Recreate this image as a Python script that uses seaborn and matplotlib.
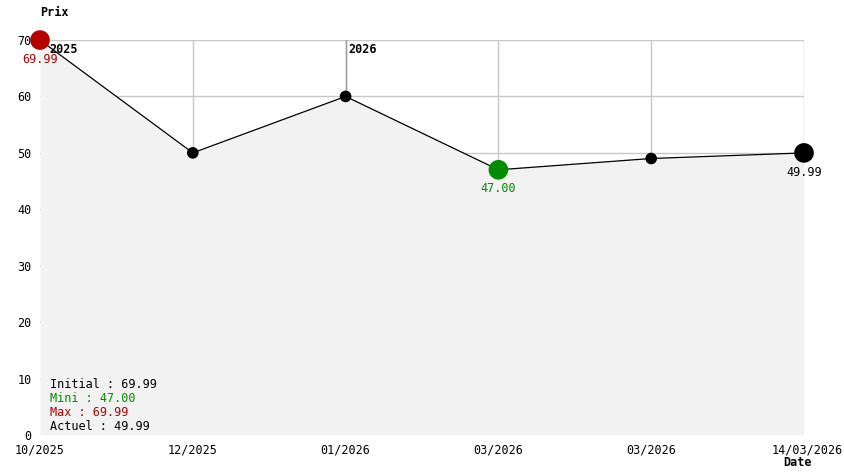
import pandas as pd
import seaborn as sns
import matplotlib.pyplot as plt
import matplotlib.transforms as mtransforms

# donnees
dates = ["10/2025", "12/2025", "01/2026", "03/2026", "03/2026", "14/03/2026"]
prix = [69.99, 50, 60, 47, 49, 49.99]
y_ticks = [0, 10, 20, 30, 40, 50, 60, 70]

ROUGE = "#b40000"
VERT = "#008c00"

df = pd.DataFrame({"pos": range(len(prix)), "prix": prix})

sns.set_style("white")
plt.rcParams["font.family"] = ["DejaVu Sans Mono"]
plt.rcParams["text.color"] = "black"
plt.rcParams["xtick.color"] = "black"
plt.rcParams["ytick.color"] = "black"

fig = plt.figure(figsize=(8.44, 4.74), dpi=100)
ax = fig.add_axes([40 / 844, 39 / 474, 764 / 844, 395 / 474])

# grille sous le remplissage
ax.grid(False)
for v in y_ticks:
    ax.axhline(v, color="#c8c8c8", linewidth=1, zorder=0.5)
for i in range(1, len(dates)):
    ax.axvline(i, color="#c8c8c8", linewidth=1, zorder=0.5)
# separateur d'annee
ax.axvline(2, color="#999999", linewidth=1, zorder=0.6)

ax.fill_between(df["pos"], df["prix"], 0, color="#f2f2f2", linewidth=0, zorder=1)

sns.lineplot(data=df, x="pos", y="prix", color="black", linewidth=0.9, ax=ax, zorder=3)

i_min = prix.index(min(prix))
i_max = prix.index(max(prix))
i_last = len(prix) - 1
petits = [i for i in range(len(prix)) if i not in (i_min, i_max, i_last)]
sns.scatterplot(data=df.iloc[petits], x="pos", y="prix", color="black", s=70,
                edgecolor="none", ax=ax, zorder=4)
sns.scatterplot(data=df.iloc[[i_max]], x="pos", y="prix", color=ROUGE, s=200,
                edgecolor="none", ax=ax, zorder=4, clip_on=False)
sns.scatterplot(data=df.iloc[[i_min]], x="pos", y="prix", color=VERT, s=200,
                edgecolor="none", ax=ax, zorder=4)
sns.scatterplot(data=df.iloc[[i_last]], x="pos", y="prix", color="black", s=200,
                edgecolor="none", ax=ax, zorder=4, clip_on=False)

ax.text(0.06, 68.4, "2025", fontsize=8.5, fontweight="bold", va="center", zorder=2)
ax.text(2.02, 68.4, "2026", fontsize=8.5, fontweight="bold", va="center", zorder=2)

ax.text(i_max, prix[i_max] - 3.4, f"{prix[i_max]:.2f}", color=ROUGE, fontsize=8.5,
        ha="center", va="center", zorder=5)
ax.text(i_min, prix[i_min] - 3.4, f"{prix[i_min]:.2f}", color=VERT, fontsize=8.5,
        ha="center", va="center", zorder=5)
ax.text(i_last, prix[i_last] - 3.4, f"{prix[i_last]:.2f}", color="black", fontsize=8.5,
        ha="center", va="center", zorder=5)

# resume en bas a gauche
resume = [("Initial : %.2f" % prix[0], "black"),
          ("Mini : %.2f" % min(prix), VERT),
          ("Max : %.2f" % max(prix), ROUGE),
          ("Actuel : %.2f" % prix[-1], "black")]
for k, (txt, c) in enumerate(resume):
    ax.text(0.065, 8.9 - k * 2.48, txt, color=c, fontsize=8.5, va="center", zorder=5)

ax.set_xlim(0, len(prix) - 1)
ax.set_ylim(0, 70)
ax.set_xticks(range(len(dates)))
ax.set_xticklabels(dates, fontsize=8.5)
ax.set_yticks(y_ticks)
ax.set_yticklabels([str(v) for v in y_ticks], fontsize=8.5)
ax.tick_params(length=0, pad=6)
ax.set_xlabel("")
ax.set_ylabel("")
sns.despine(ax=ax, left=True, bottom=True)

# derniere date un peu decalee vers la droite, sans sortir de l'image
lab = ax.get_xticklabels()[-1]
lab.set_transform(lab.get_transform() + mtransforms.ScaledTranslation(0.03, 0, fig.dpi_scale_trans))

fig.text(40 / 844, 1 - 12 / 474, "Prix", fontsize=8.5, fontweight="bold", va="center")
fig.text(798 / 844, 1 - 463 / 474, "Date", fontsize=8.5, fontweight="bold", va="center", ha="center")

fig.savefig("out.png", dpi=100)
